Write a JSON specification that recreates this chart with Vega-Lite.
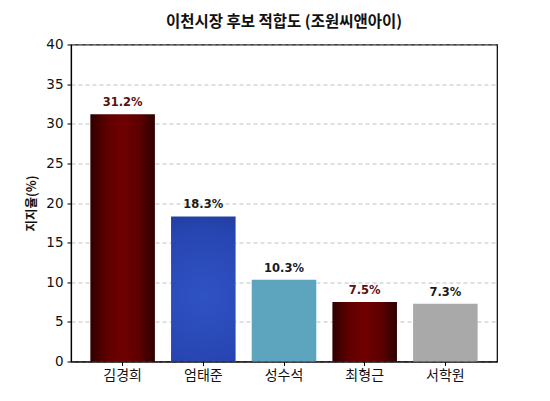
{
  "$schema": "https://vega.github.io/schema/vega-lite/v6.json",
  "width": 426,
  "height": 317,
  "autosize": {"type": "none"},
  "padding": {"left": 71, "top": 44.5, "right": 53, "bottom": 39.5},
  "background": "white",
  "title": {
    "text": "이천시장 후보 적합도 (조원씨앤아이)",
    "font": "Noto Sans CJK KR",
    "fontSize": 15.5,
    "fontWeight": "bold",
    "color": "#111111",
    "anchor": "middle",
    "offset": 7
  },
  "data": {
    "values": [
      {"name": "김경희", "value": 31.2},
      {"name": "엄태준", "value": 18.3},
      {"name": "성수석", "value": 10.3},
      {"name": "최형근", "value": 7.5},
      {"name": "서학원", "value": 7.3}
    ]
  },
  "config": {
    "view": {"stroke": "black", "strokeWidth": 1.2}
  },
  "encoding": {
    "x": {
      "field": "name",
      "type": "nominal",
      "sort": ["김경희", "엄태준", "성수석", "최형근", "서학원"],
      "scale": {"paddingInner": 0.2, "paddingOuter": 0.24},
      "axis": {
        "title": null,
        "labelAngle": 0,
        "labelFont": "Noto Sans CJK KR",
        "labelFontSize": 14,
        "labelColor": "#111111",
        "domainColor": "black",
        "domainWidth": 1.2,
        "tickColor": "black",
        "tickSize": 4,
        "labelPadding": 3,
        "grid": false
      }
    },
    "y": {
      "field": "value",
      "type": "quantitative",
      "scale": {"domain": [0, 40], "nice": false},
      "axis": {
        "values": [0, 5, 10, 15, 20, 25, 30, 35, 40],
        "title": "지지율(%)",
        "titleFont": "Noto Sans CJK KR",
        "titleFontSize": 12.5,
        "titleFontWeight": "bold",
        "titleColor": "#111111",
        "titlePadding": 7,
        "labelFont": "DejaVu Sans",
        "labelFontSize": 13.5,
        "labelColor": "#111111",
        "labelPadding": 4,
        "domainColor": "black",
        "domainWidth": 1.2,
        "tickColor": "black",
        "tickSize": 4,
        "grid": true,
        "gridColor": "#b0b0b0",
        "gridDash": [4, 3],
        "gridWidth": 0.8
      }
    }
  },
  "layer": [
    {
      "transform": [{"filter": {"field": "name", "oneOf": ["김경희", "최형근"]}}],
      "mark": {
        "type": "bar",
        "color": {
          "gradient": "linear", "x1": 0, "x2": 1, "y1": 0, "y2": 0,
          "stops": [
            {"offset": 0, "color": "#2e0000"},
            {"offset": 0.25, "color": "#5e0000"},
            {"offset": 0.5, "color": "#700000"},
            {"offset": 0.75, "color": "#5e0000"},
            {"offset": 1, "color": "#2e0000"}
          ]
        }
      }
    },
    {
      "transform": [{"filter": {"field": "name", "equal": "엄태준"}}],
      "mark": {
        "type": "bar",
        "color": {
          "gradient": "radial", "x1": 0.5, "y1": 0.55, "r1": 0, "x2": 0.5, "y2": 0.55, "r2": 0.75,
          "stops": [
            {"offset": 0, "color": "#2f52c4"},
            {"offset": 0.6, "color": "#2846b2"},
            {"offset": 1, "color": "#1c3590"}
          ]
        }
      }
    },
    {
      "transform": [{"filter": {"field": "name", "equal": "성수석"}}],
      "mark": {"type": "bar", "color": "#5da5bf"}
    },
    {
      "transform": [{"filter": {"field": "name", "equal": "서학원"}}],
      "mark": {"type": "bar", "color": "#a9a9a9"}
    },
    {
      "mark": {
        "type": "text",
        "baseline": "alphabetic",
        "dy": -8,
        "font": "DejaVu Sans",
        "fontSize": 11.5,
        "fontWeight": "bold",
        "text": {"expr": "format(datum.value, '.1f') + '%'"}
      },
      "encoding": {
        "color": {
          "field": "name",
          "type": "nominal",
          "scale": {
            "domain": ["김경희", "엄태준", "성수석", "최형근", "서학원"],
            "range": ["#5c0f0f", "#1a1a1a", "#1a1a1a", "#5c0f0f", "#1a1a1a"]
          },
          "legend": null
        }
      }
    }
  ]
}
